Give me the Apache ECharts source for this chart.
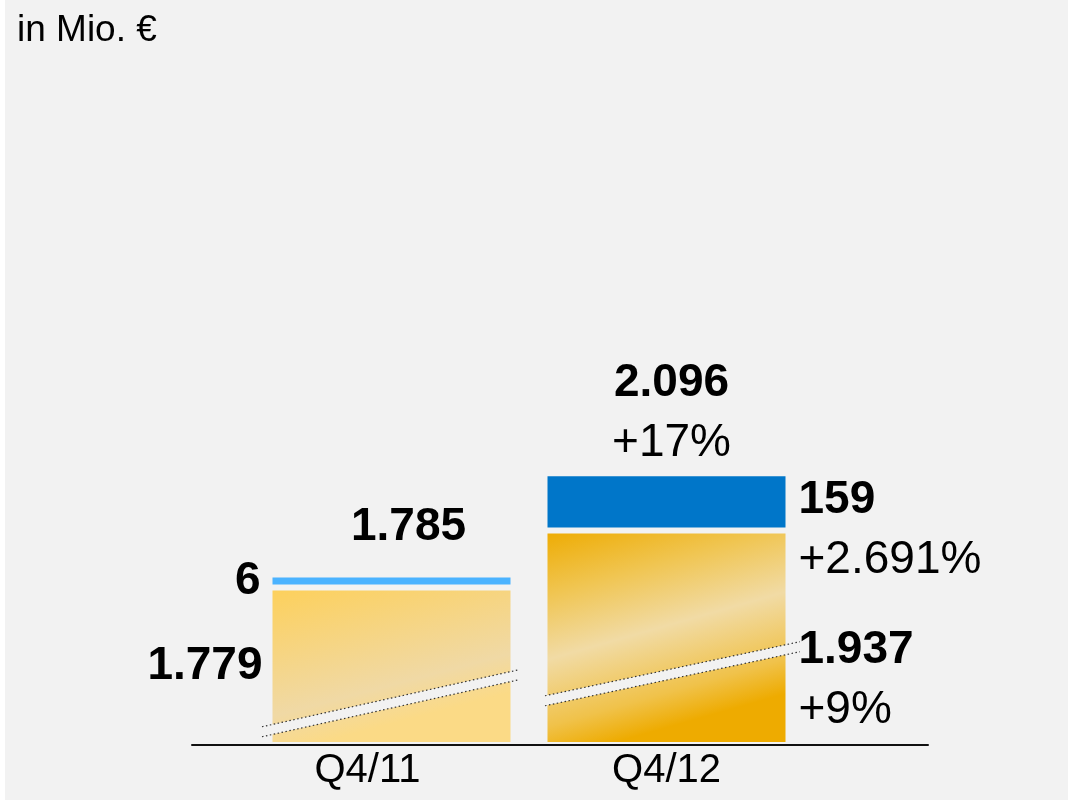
<!DOCTYPE html>
<html><head><meta charset="utf-8">
<script src="https://cdn.jsdelivr.net/npm/echarts@6/dist/echarts.min.js"></script>
<style>
html,body{margin:0;padding:0;background:#fff;}
#chart{position:absolute;left:5px;top:0;width:1063px;height:800px;background:#f2f2f2;}
</style></head><body><div id="chart"></div>
<script>
// ---- data ----
const categories = ['Q4/11', 'Q4/12'];
const baseValues = [1779, 1937];      // gold segment
const newValues = [6, 159];           // blue segment
const totalValues = [1785, 2096];     // totals
const baseGrowth = [null, 9];         // %
const newGrowth = [null, 2691];       // %
const totalGrowth = [null, 17];       // %
const unitLabel = 'in Mio. €';
const axisBreak = { start: 100, end: 1441 };

// ---- styling ----
const FONT = '"Liberation Sans", Arial, sans-serif';
const rich = {
  b: { fontFamily: FONT, fontWeight: 'bold', fontSize: 46, lineHeight: 60, color: '#000' },
  n: { fontFamily: FONT, fontSize: 46, lineHeight: 60, color: '#000' }
};
function fmt(v) { return String(v).replace(/\B(?=(\d{3})+(?!\d))/g, '.'); }
function block(v, g) { return '{b|' + fmt(v) + '}' + (g != null ? '\n{n|+' + fmt(g) + '%}' : ''); }

const G = echarts.graphic.LinearGradient;
const goldFill = [
  new G(0, 0, 0.17, 1, [{offset: 0, color: '#fdd05a'}, {offset: 0.77, color: '#f0d9a5'}, {offset: 1, color: '#fbda86'}]),
  new G(0, 0, 0.25, 1, [{offset: 0, color: '#eeab00'}, {offset: 0.28, color: '#f0c551'}, {offset: 0.56, color: '#f1dba5'}, {offset: 0.85, color: '#f0c24a'}, {offset: 1, color: '#eeab00'}])
];
const blueFill = ['#4bb3ff', '#0076c9'];

const goldLabel = [
  { position: 'left', distance: 7 },
  { position: ['100%', '100%'], align: 'left', verticalAlign: 'bottom', offset: [10, -5] }
];
const blueLabel = [
  { position: 'left', distance: 9 },
  { position: ['100%', 0], align: 'left', verticalAlign: 'top', offset: [10, -3] }
];
const totalLabel = [
  { position: 'top', distance: 28, offset: [17, 0] },
  { position: 'top', distance: 0, offset: [5, 0] }
];

const chart = echarts.init(document.getElementById('chart'), null, { renderer: 'canvas' });
chart.setOption({
  animation: false,
  backgroundColor: '#f2f2f2',
  title: {
    text: unitLabel, left: 12, top: 12, padding: 0,
    textStyle: { fontFamily: FONT, fontSize: 37, fontWeight: 'normal', color: '#000' }
  },
  grid: [
    { left: 249, right: 264, top: 364, bottom: 55 },
    { left: 187, right: 140, top: 744, bottom: 55 }
  ],
  xAxis: [
    {
      type: 'category', gridIndex: 0, data: categories,
      axisLine: { show: false }, axisTick: { show: false },
      axisLabel: {
        margin: 6,
        formatter: (v, i) => '{c' + i + '|' + v + '}',
        rich: {
          c0: { fontFamily: FONT, fontSize: 40, color: '#000', padding: [0, 48, 0, 0] },
          c1: { fontFamily: FONT, fontSize: 40, color: '#000' }
        }
      }
    },
    {
      type: 'value', gridIndex: 1, min: 0, max: 1, z: 20,
      axisLine: { show: true, onZero: false, lineStyle: { color: '#111', width: 2 } },
      axisTick: { show: false }, axisLabel: { show: false }, splitLine: { show: false }
    }
  ],
  yAxis: [
    {
      type: 'value', gridIndex: 0, min: 0, max: 2400,
      breaks: [{ start: axisBreak.start, end: axisBreak.end, gap: 0 }],
      breakArea: { show: false },
      axisLine: { show: false }, axisTick: { show: false }, axisLabel: { show: false }, splitLine: { show: false }
    },
    { type: 'value', gridIndex: 1, show: false }
  ],
  series: [
    {
      type: 'bar', stack: 's', barWidth: 244, xAxisIndex: 0, yAxisIndex: 0,
      itemStyle: { borderColor: '#f2f2f2', borderWidth: 3 },
      label: { show: true, rich, formatter: p => block(baseValues[p.dataIndex], baseGrowth[p.dataIndex]) },
      data: baseValues.map((v, i) => ({ value: v, itemStyle: { color: goldFill[i] }, label: goldLabel[i] }))
    },
    {
      type: 'bar', stack: 's', barWidth: 244, barMinHeight: 13, xAxisIndex: 0, yAxisIndex: 0,
      itemStyle: { borderColor: '#f2f2f2', borderWidth: 3 },
      label: { show: true, rich, formatter: p => block(newValues[p.dataIndex], newGrowth[p.dataIndex]) },
      data: newValues.map((v, i) => ({ value: v, itemStyle: { color: blueFill[i] }, label: blueLabel[i] }))
    },
    {
      type: 'scatter', symbolSize: 0, xAxisIndex: 0, yAxisIndex: 0, z: 10,
      itemStyle: { opacity: 1 },
      label: { show: true, color: '#000', rich, formatter: p => block(totalValues[p.dataIndex], totalGrowth[p.dataIndex]) },
      data: totalValues.map((v, i) => ({ value: v, label: totalLabel[i] }))
    }
  ]
});

// decorative break stripes, placed from the axis scale
const stripeShape = [
  { dy: -6, left: 129.5, right: 127.5, slope: -0.222 },
  { dy: -34, left: 121.5, right: 133.5, slope: -0.212 }
];
const yBreak = chart.convertToPixel({ yAxisIndex: 0 }, axisBreak.start);
const els = [];
categories.forEach((c, i) => {
  const xc = chart.convertToPixel({ xAxisIndex: 0 }, c);
  const s = stripeShape[i];
  const yc = yBreak + s.dy;
  const xl = xc - s.left, xr = xc + s.right;
  const yl = yc - s.slope * s.left, yr = yc + s.slope * s.right;
  const h = 5;
  els.push({
    type: 'polygon', z: 100,
    shape: { points: [[xl, yl - h], [xr, yr - h], [xr, yr + h], [xl, yl + h]] },
    style: { fill: '#f2f2f2' }
  });
  [-h, h].forEach(d => els.push({
    type: 'polyline', z: 101,
    shape: { points: [[xl, yl + d], [xr, yr + d]] },
    style: { stroke: '#333', lineWidth: 1.2, lineDash: [1.5, 2.5], fill: null }
  }));
});
chart.setOption({ graphic: els });
</script></body></html>
